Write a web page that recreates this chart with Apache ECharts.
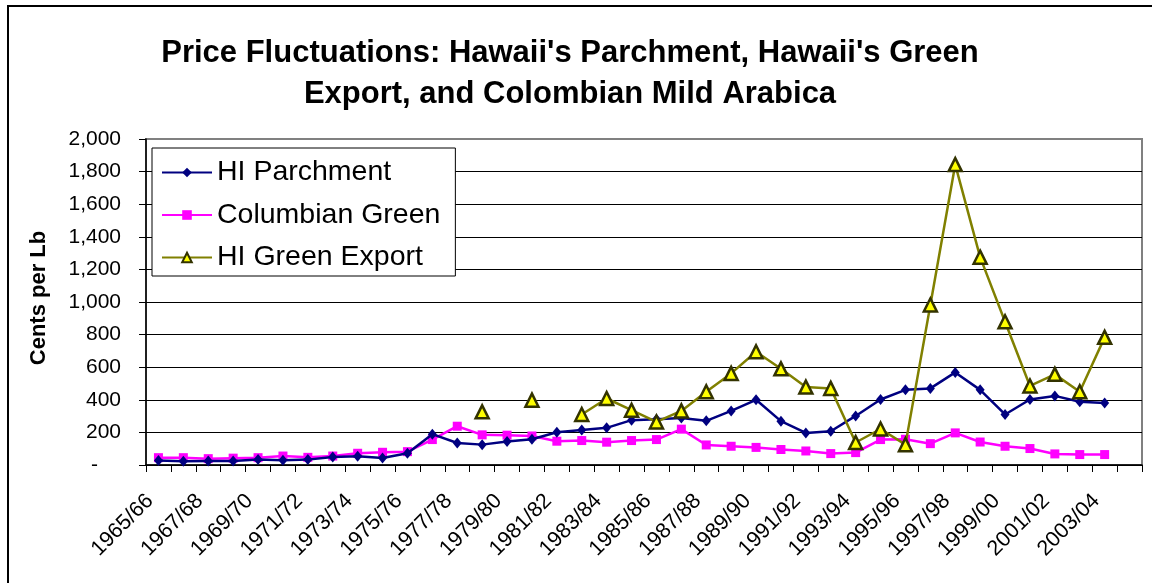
<!DOCTYPE html>
<html>
<head>
<meta charset="utf-8">
<script src="https://cdn.jsdelivr.net/npm/echarts@6/dist/echarts.min.js"></script>
<style>
html,body{margin:0;padding:0;background:#fff;}
#chart{width:1152px;height:583px;}
</style>
</head>
<body>
<div id="chart"></div>
<script>
var categories = ['1965/66','1966/67','1967/68','1968/69','1969/70','1970/71','1971/72','1972/73','1973/74','1974/75',
  '1975/76','1976/77','1977/78','1978/79','1979/80','1980/81','1981/82','1982/83','1983/84','1984/85',
  '1985/86','1986/87','1987/88','1988/89','1989/90','1990/91','1991/92','1992/93','1993/94','1994/95',
  '1995/96','1996/97','1997/98','1998/99','1999/00','2000/01','2001/02','2002/03','2003/04','2004/05'];

var hiParchment = [27, 23, 25, 25, 33, 29, 33, 49, 53, 43, 72, 189, 135, 125, 144, 158, 201, 215, 228, 275,
  281, 289, 271, 332, 400, 269, 197, 207, 301, 402, 461, 470, 568, 461, 310, 402, 424, 388, 381, null];

var columbianGreen = [45, 45, 39, 42, 45, 55, 47, 55, 72, 78, 82, 156, 238, 185, 183, 178, 146, 150, 140, 150,
  156, 220, 123, 115, 108, 95, 86, 70, 76, 156, 158, 131, 197, 141, 115, 101, 68, 64, 64, null];

var hiGreenExport = [null, null, null, null, null, null, null, null, null, null, null, null, null, 326, null, 398, null, 310, 408, 336,
  264, 332, 449, 562, 695, 590, 478, 470, 138, 221, 125, 982, 1843, 1275, 879, 485, 556, 449, 783, null];

var yTicks = {min: 0, max: 2000, interval: 200};

var titleText = "Price Fluctuations: Hawaii's Parchment, Hawaii's Green\nExport, and Colombian Mild Arabica";

var chart = echarts.init(document.getElementById('chart'), null, {renderer: 'canvas'});
var font = "'Liberation Sans', Arial, sans-serif";
var splitColors = ['#000','#000','#000','#000','#000','#000','#000','#000','#000','#000','#808080'];

chart.setOption({
  animation: false,
  backgroundColor: '#fff',
  textStyle: {fontFamily: font},
  title: {
    text: titleText,
    left: 570,
    top: 33,
    padding: 0,
    textAlign: 'center',
    textStyle: {fontFamily: font, fontSize: 31, fontWeight: 'bold', color: '#000', lineHeight: 41}
  },
  legend: {
    orient: 'vertical',
    left: 152,
    top: 148,
    padding: [10, 15, 4, 9],
    itemGap: 13.5,
    itemWidth: 50,
    itemHeight: 12,
    backgroundColor: '#fff',
    borderColor: '#000',
    borderWidth: 1,
    borderRadius: 0,
    textStyle: {fontFamily: font, fontSize: 28.5, color: '#000'},
    data: ['HI Parchment', 'Columbian Green', 'HI Green Export']
  },
  grid: {
    left: 146, right: 10, top: 139, bottom: 118,
    show: true, borderColor: '#808080', borderWidth: 2, backgroundColor: '#fff',
    containLabel: false
  },
  xAxis: {
    type: 'category',
    data: categories,
    boundaryGap: true,
    axisLine: {lineStyle: {color: '#000', width: 1.5}},
    axisTick: {show: true, interval: 0, length: 7, lineStyle: {color: '#000', width: 1}},
    axisLabel: {interval: 1, rotate: 45, margin: 24, padding: [0, 12, 0, 0], fontFamily: font, fontSize: 21.5, color: '#000'},
    splitLine: {show: false}
  },
  yAxis: {
    type: 'value',
    min: yTicks.min, max: yTicks.max, interval: yTicks.interval,
    name: 'Cents per Lb',
    nameLocation: 'middle',
    nameGap: 96,
    nameTextStyle: {fontFamily: font, fontSize: 22, fontWeight: 'bold', color: '#000', padding: [0, 0, 0, 8]},
    axisLine: {show: true, lineStyle: {color: '#000', width: 1.5}},
    axisTick: {show: true, length: 7, lineStyle: {color: '#000', width: 1}},
    axisLabel: {
      margin: 25, fontFamily: font, fontSize: 21, color: '#000',
      formatter: function (v) {
        if (v === 0) return '{d|-}';
        return v.toLocaleString('en-US');
      },
      rich: {d: {fontFamily: font, fontSize: 21, color: '#000', padding: [0, 23, 0, 0]}}
    },
    splitLine: {show: true, lineStyle: {color: splitColors, width: 1}}
  },
  series: [
    {
      name: 'HI Parchment', type: 'line', data: hiParchment,
      symbol: 'diamond', symbolSize: [9, 11], showAllSymbol: true,
      lineStyle: {color: '#000080', width: 2.5},
      itemStyle: {color: '#000080'},
      z: 3
    },
    {
      name: 'Columbian Green', type: 'line', data: columbianGreen,
      symbol: 'rect', symbolSize: 9, showAllSymbol: true,
      lineStyle: {color: '#FF00FF', width: 2.5},
      itemStyle: {color: '#FF00FF'},
      z: 2
    },
    {
      name: 'HI Green Export', type: 'line', data: hiGreenExport,
      symbol: 'triangle', symbolSize: 13, showAllSymbol: true, connectNulls: false,
      lineStyle: {color: '#808000', width: 2.5},
      itemStyle: {color: '#FFFF00', borderColor: '#333300', borderWidth: 2.5},
      z: 4
    }
  ],
  graphic: [
    {
      type: 'rect', silent: true, z: 100,
      shape: {x: 8, y: 6, width: 1200, height: 700},
      style: {fill: 'none', stroke: '#000', lineWidth: 2}
    }
  ]
});
</script>
</body>
</html>
